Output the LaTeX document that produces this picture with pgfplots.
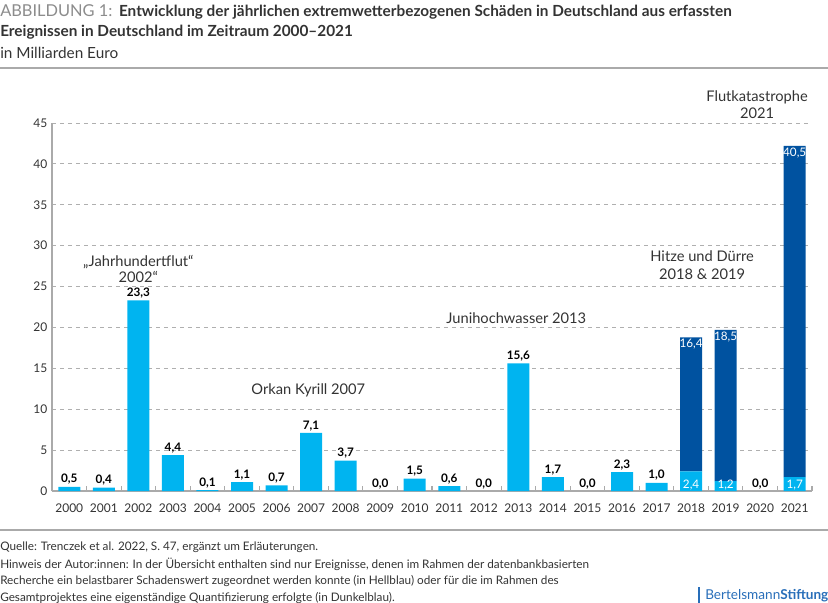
\documentclass[border=0pt]{standalone}
\usepackage{fontspec}
\setmainfont{Lato}
\usepackage{pgfplots}
\pgfplotsset{compat=1.18}

\definecolor{hell}{RGB}{0,180,240}
\definecolor{dunkel}{RGB}{0,82,160}
\definecolor{achse}{RGB}{170,170,170}
\definecolor{raster}{RGB}{175,175,175}
\definecolor{textgrau}{RGB}{51,51,51}
\definecolor{kopfgrau}{RGB}{140,140,140}
\definecolor{logo}{RGB}{40,110,185}

\pgfplotsset{
  rahmen/.style={
    at={(39pt,-368.25pt)}, anchor=south west,
    scale only axis, width=570pt, height=276pt,
    xmin=-0.5, xmax=21.5, ymin=0, ymax=45,
    clip=false,
  },
}
\tikzset{wert/.style={font=\fontsize{8.8}{10}\selectfont, inner sep=1.5pt}}

\begin{document}
\begin{tikzpicture}
\begin{scope}[x=0.75pt,y=-0.75pt]
\path[use as bounding box] (0,0) rectangle (828,603);

% Kopf
\node[anchor=west, inner sep=0, text=textgrau] at (0,12)
  {{\color{kopfgrau}\fontsize{12.3}{14}\selectfont ABBILDUNG 1:}\hspace{5pt}\fontsize{11.5}{14}\selectfont\textbf{Entwicklung der jährlichen extremwetterbezogenen Schäden in Deutschland aus erfassten}};
\node[anchor=west, inner sep=0, text=textgrau, font=\fontsize{11.5}{14}\selectfont\bfseries] at (0,32)
  {Ereignissen in Deutschland im Zeitraum 2000–2021};
\node[anchor=west, inner sep=0, text=textgrau, font=\fontsize{11.5}{13}\selectfont] at (0,53)
  {in Milliarden Euro};
\draw[achse, line width=1pt] (0,68) -- (828,68);

% Fuss
\draw[achse, line width=1pt] (0,530) -- (828,530);
\foreach \zeile/\y in {
  {Quelle: Trenczek et al. 2022, S. 47, ergänzt um Erläuterungen.}/547,
  {Hinweis der Autor:innen: In der Übersicht enthalten sind nur Ereignisse, denen im Rahmen der datenbankbasierten}/564,
  {Recherche ein belastbarer Schadenswert zugeordnet werden konnte (in Hellblau) oder für die im Rahmen des}/581,
  {Gesamtprojektes eine eigenständige Quantifizierung erfolgte (in Dunkelblau).}/598}
  \node[anchor=west, inner sep=0, text=textgrau, font=\fontsize{8.8}{10}\selectfont] at (0,\y) {\zeile};

\fill[logo] (698,587) rectangle (700,603);
\node[anchor=west, inner sep=0, text=logo, font=\fontsize{10.2}{12}\selectfont] at (705,596)
  {Bertelsmann\textbf{Stiftung}};
\end{scope}

% Balken
\begin{axis}[
  rahmen,
  axis x line*=bottom, axis y line*=left,
  axis line style={achse, line width=0.8pt},
  ybar stacked, bar width=16.5pt,
  ytick={0,5,...,45},
  ymajorgrids, grid style={raster, dashed, line width=0.6pt},
  xtick={0,...,21},
  xticklabels={2000,2001,2002,2003,2004,2005,2006,2007,2008,2009,2010,
    2011,2012,2013,2014,2015,2016,2017,2018,2019,2020,2021},
  minor xtick={0.5,1.5,...,21.5},
  major tick length=0pt, minor tick length=4pt, tick align=inside,
  minor tick style={achse, line width=0.8pt},
  ticklabel style={text=textgrau, font=\fontsize{9}{11}\selectfont},
  xticklabel style={yshift=-6pt},
  /pgf/number format/assume math mode=true,
]
\addplot[fill=hell, draw=none] coordinates {
  (0,0.5) (1,0.4) (2,23.3) (3,4.4) (4,0.1) (5,1.1) (6,0.7) (7,7.1) (8,3.7) (9,0.0)
  (10,1.5) (11,0.6) (12,0.0) (13,15.6) (14,1.7) (15,0.0) (16,2.3) (17,1.0)
  (18,2.4) (19,1.2) (20,0.0) (21,1.7)
  };
\addplot[fill=dunkel, draw=none] coordinates {
  (0,0) (1,0) (2,0) (3,0) (4,0) (5,0) (6,0) (7,0) (8,0) (9,0)
  (10,0) (11,0) (12,0) (13,0) (14,0) (15,0) (16,0) (17,0)
  (18,16.4) (19,18.5) (20,0) (21,40.5)
  };
\end{axis}

% Beschriftungen
\begin{axis}[rahmen, hide axis]
\addplot[draw=none, mark=none, nodes near coords, point meta=explicit symbolic,
  every node near coord/.append style={wert, anchor=south, text=black, font=\bfseries\fontsize{8.8}{10}\selectfont}]
  coordinates {
  (0,0.5)[{0,5}] (1,0.4)[{0,4}] (2,23.3)[{23,3}] (3,4.4)[{4,4}] (4,0.1)[{0,1}]
  (5,1.1)[{1,1}] (6,0.7)[{0,7}] (7,7.1)[{7,1}] (8,3.7)[{3,7}] (9,0.0)[{0,0}]
  (10,1.5)[{1,5}] (11,0.6)[{0,6}] (12,0.0)[{0,0}] (13,15.6)[{15,6}] (14,1.7)[{1,7}]
  (15,0.0)[{0,0}] (16,2.3)[{2,3}] (17,1.0)[{1,0}] (20,0.0)[{0,0}]
  };
% helle Anteile der gestapelten Balken
\addplot[draw=none, mark=none, nodes near coords, point meta=explicit symbolic,
  every node near coord/.append style={wert, anchor=south, text=white, yshift=-1pt}]
  coordinates {(18,0)[{2,4}] (19,0)[{1,2}] (21,0)[{1,7}]};
% dunkle Anteile, Beschriftung an der Oberkante
\addplot[draw=none, mark=none, nodes near coords, point meta=explicit symbolic,
  every node near coord/.append style={wert, anchor=north, text=white}]
  coordinates {(18,18.8)[{16,4}] (19,19.7)[{18,5}] (21,42.2)[{40,5}]};

% Ereignisse
\node[align=center, text=textgrau, font=\fontsize{11}{12}\selectfont] at (axis cs:2,27.2) {„Jahrhundertflut“\\2002“};
\node[text=textgrau, font=\fontsize{11}{12}\selectfont] at (axis cs:6.92,12.3) {Orkan Kyrill 2007};
\node[text=textgrau, font=\fontsize{11}{12}\selectfont] at (axis cs:12.94,21.1) {Junihochwasser 2013};
\node[align=center, text=textgrau, font=\fontsize{11}{13.5}\selectfont] at (axis cs:18.32,27.6) {Hitze und Dürre\\2018 \& 2019};
\node[align=center, text=textgrau, font=\fontsize{11}{12.75}\selectfont] at (axis cs:19.91,47.3) {Flutkatastrophe\\2021};
\end{axis}
\end{tikzpicture}
\end{document}
